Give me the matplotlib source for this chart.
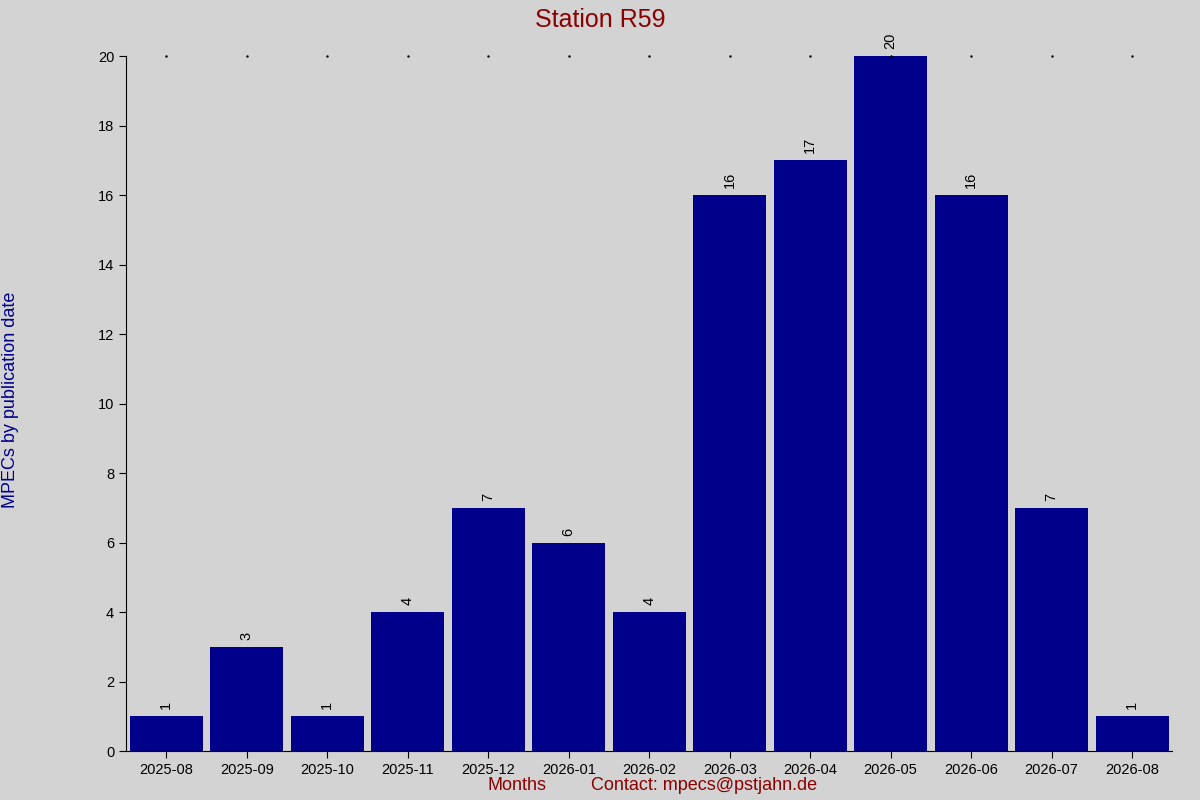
import matplotlib
matplotlib.use("Agg")
import matplotlib.pyplot as plt

months = ["2025-08","2025-09","2025-10","2025-11","2025-12","2026-01","2026-02",
          "2026-03","2026-04","2026-05","2026-06","2026-07","2026-08"]
counts = [1,3,1,4,7,6,4,16,17,20,16,7,1]

plt.rcParams['font.family'] = ['Liberation Sans', 'DejaVu Sans']
fig = plt.figure(figsize=(12, 8), dpi=100, facecolor="#D3D3D3")
ax = fig.add_axes([0.105, 0.061, 0.872, 0.869], facecolor="#D3D3D3")
x = list(range(len(months)))
ax.bar(x, counts, width=0.91, color="#00008B")
for xi, c in zip(x, counts):
    ax.text(xi, c + 0.2, str(c), rotation=90, ha="center", va="bottom", fontsize=10.5)
ax.set_xlim(-0.5, len(months) - 0.5)
ax.set_ylim(0, 20)
ax.set_yticks(range(0, 21, 2))
ax.set_xticks(x)
ax.set_xticklabels(months)
ax.tick_params(labelsize=10.5, length=5)
for s in ["top", "right"]:
    ax.spines[s].set_visible(False)
for xi in x:
    ax.plot(xi, 20, marker=".", markersize=1.5, color="black", clip_on=False)
fig.text(0.5, 0.975, "Station R59", ha="center", va="center", color="#8B0000", fontsize=18)
fig.text(0.431, 0.018, "Months", ha="center", va="center", color="#8B0000", fontsize=13)
fig.text(0.587, 0.018, "Contact: mpecs@pstjahn.de", ha="center", va="center", color="#8B0000", fontsize=13)
fig.text(0.009, 0.5, "MPECs by publication date", rotation=90, ha="center", va="center",
         color="#00008B", fontsize=13)
fig.savefig("out.png", dpi=100, facecolor=fig.get_facecolor())
